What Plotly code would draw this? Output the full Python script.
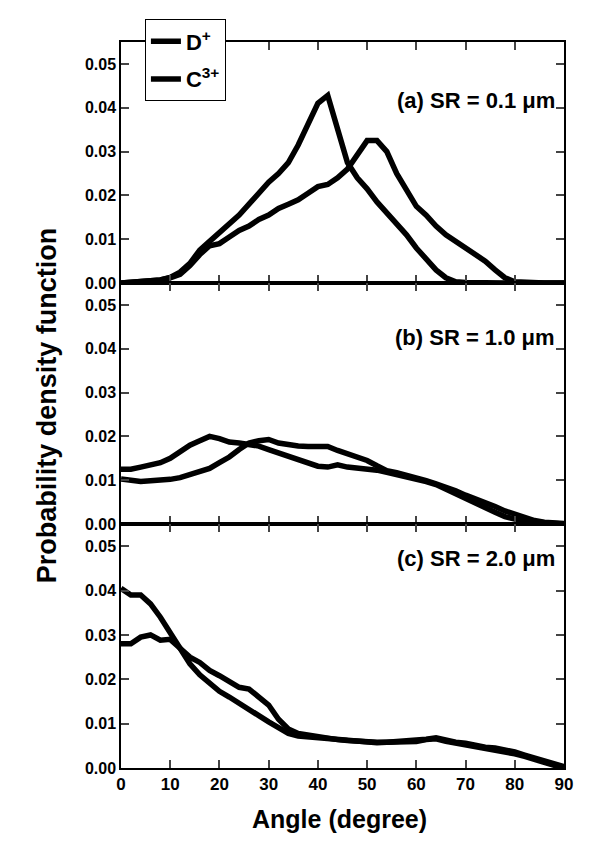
import plotly.graph_objects as go
from plotly.subplots import make_subplots

angle = list(range(0, 92, 2))

# (a) SR = 0.1 um
d_a = [0.0000, 0.0001, 0.0002, 0.0004, 0.0007, 0.0013, 0.0025, 0.0045, 0.0075, 0.0095,
       0.0115, 0.0135, 0.0155, 0.0180, 0.0205, 0.0230, 0.0250, 0.0275, 0.0315, 0.0365,
       0.0410, 0.0428, 0.0350, 0.0275, 0.0240, 0.0215, 0.0185, 0.0160, 0.0135, 0.0110,
       0.0080, 0.0055, 0.0030, 0.0012, 0.0003, 0.0001, 0.0000, 0.0000, 0.0000, 0.0000,
       0.0000, 0.0000, 0.0000, 0.0000, 0.0000, 0.0000]
c_a = [0.0000, 0.0001, 0.0002, 0.0004, 0.0007, 0.0012, 0.0020, 0.0040, 0.0065, 0.0085,
       0.0090, 0.0105, 0.0120, 0.0130, 0.0145, 0.0155, 0.0170, 0.0180, 0.0190, 0.0205,
       0.0220, 0.0225, 0.0240, 0.0260, 0.0290, 0.0325, 0.0325, 0.0300, 0.0250, 0.0210,
       0.0175, 0.0155, 0.0130, 0.0110, 0.0095, 0.0080, 0.0065, 0.0050, 0.0030, 0.0012,
       0.0003, 0.0001, 0.0000, 0.0000, 0.0000, 0.0000]

# (b) SR = 1.0 um
d_b = [0.0125, 0.0125, 0.0130, 0.0135, 0.0140, 0.0150, 0.0165, 0.0180, 0.0190, 0.0200,
       0.0195, 0.0187, 0.0185, 0.0182, 0.0178, 0.0170, 0.0163, 0.0155, 0.0147, 0.0140,
       0.0132, 0.0130, 0.0135, 0.0130, 0.0128, 0.0125, 0.0123, 0.0118, 0.0113, 0.0110,
       0.0103, 0.0097, 0.0090, 0.0079, 0.0068, 0.0058, 0.0048, 0.0037, 0.0027, 0.0017,
       0.0010, 0.0006, 0.0004, 0.0002, 0.0001, 0.0000]
c_b = [0.0103, 0.0100, 0.0097, 0.0099, 0.0100, 0.0102, 0.0106, 0.0112, 0.0120, 0.0127,
       0.0140, 0.0153, 0.0170, 0.0185, 0.0190, 0.0193, 0.0185, 0.0180, 0.0178, 0.0177,
       0.0177, 0.0177, 0.0168, 0.0160, 0.0153, 0.0145, 0.0133, 0.0122, 0.0117, 0.0112,
       0.0106, 0.0099, 0.0092, 0.0085, 0.0076, 0.0066, 0.0058, 0.0050, 0.0040, 0.0030,
       0.0022, 0.0014, 0.0008, 0.0004, 0.0002, 0.0001]

# (c) SR = 2.0 um
d_c = [0.0405, 0.0390, 0.0390, 0.0370, 0.0340, 0.0305, 0.0270, 0.0235, 0.0210, 0.0190,
       0.0173, 0.0160, 0.0145, 0.0132, 0.0118, 0.0104, 0.0090, 0.0078, 0.0072, 0.0070,
       0.0068, 0.0066, 0.0062, 0.0060, 0.0058, 0.0057, 0.0057, 0.0058, 0.0058, 0.0059,
       0.0060, 0.0064, 0.0066, 0.0060, 0.0056, 0.0053, 0.0049, 0.0046, 0.0042, 0.0038,
       0.0032, 0.0026, 0.0019, 0.0012, 0.0006, 0.0002]
c_c = [0.0280, 0.0280, 0.0295, 0.0300, 0.0288, 0.0290, 0.0270, 0.0250, 0.0238, 0.0220,
       0.0208, 0.0195, 0.0182, 0.0178, 0.0160, 0.0142, 0.0110, 0.0088, 0.0078, 0.0074,
       0.0071, 0.0068, 0.0064, 0.0062, 0.0060, 0.0058, 0.0058, 0.0058, 0.0059, 0.0060,
       0.0062, 0.0065, 0.0068, 0.0062, 0.0058, 0.0056, 0.0051, 0.0047, 0.0045, 0.0041,
       0.0036, 0.0029, 0.0022, 0.0014, 0.0007, 0.0003]

panels = [(d_a, c_a, "(a) SR = 0.1 \u03bcm"),
          (d_b, c_b, "(b) SR = 1.0 \u03bcm"),
          (d_c, c_c, "(c) SR = 2.0 \u03bcm")]
y_ticks = [0, 0.01, 0.02, 0.03, 0.04, 0.05]

FONT = "Liberation Sans"

fig = make_subplots(rows=3, cols=1, shared_xaxes=True, vertical_spacing=0)

for i, (d, c, label) in enumerate(panels):
    row = i + 1
    fig.add_trace(go.Scatter(x=angle, y=d, mode="lines", name="D<sup>+</sup>",
                             line=dict(color="black", width=5.5), legendgroup="d",
                             showlegend=(i == 0)), row=row, col=1)
    fig.add_trace(go.Scatter(x=angle, y=c, mode="lines", name="C<sup>3+</sup>",
                             line=dict(color="black", width=5.5), legendgroup="c",
                             showlegend=(i == 0)), row=row, col=1)

domains = [[0.668, 1.0], [0.336, 0.668], [0.0, 0.336]]
ann_y = [0.939, 0.593, 0.269]

for i in range(3):
    row = i + 1
    fig.update_yaxes(range=[0, 0.055], tickvals=y_ticks, tickformat=".2f",
                     ticks="inside", ticklen=8, tickwidth=1.5, mirror="ticks",
                     showline=True, linecolor="black", linewidth=1.5,
                     showgrid=False, zeroline=False, domain=domains[i],
                     tickfont=dict(family=FONT, size=16, weight="bold", color="black"),
                     row=row, col=1)
    fig.update_xaxes(range=[0, 90], dtick=10, ticks="inside", ticklen=8, tickwidth=1.5,
                     mirror="ticks", showline=True, linecolor="black", linewidth=1.5,
                     showgrid=False, zeroline=False,
                     tickfont=dict(family=FONT, size=17, weight="bold", color="black"),
                     row=row, col=1)
    fig.add_annotation(x=0.985, y=ann_y[i], xref="paper", yref="paper",
                       text=panels[i][2], showarrow=False, xanchor="right",
                       font=dict(family=FONT, size=22, weight="bold", color="black"))

fig.add_annotation(x=0.494, y=-0.0707, xref="paper", yref="paper", text="Angle (degree)",
                   showarrow=False, yanchor="middle",
                   font=dict(family=FONT, size=25, weight="bold", color="black"))
fig.add_annotation(x=-0.205, y=0.5, xref="paper", yref="paper",
                   text="Probability density function", showarrow=False, textangle=-90,
                   font=dict(family=FONT, size=27, weight="bold", color="black"))

# page body has an 8px margin, so the figure is sized and placed to allow for it
fig.update_layout(
    width=588, height=838,
    margin=dict(l=113, r=32, t=25, b=78),
    paper_bgcolor="white", plot_bgcolor="white",
    legend=dict(x=0.054, y=1.031, xanchor="left", yanchor="top",
                bordercolor="black", borderwidth=1, bgcolor="white",
                tracegroupgap=6,
                font=dict(family=FONT, size=22, weight="bold", color="black")),
)

fig.write_html("out.html")
